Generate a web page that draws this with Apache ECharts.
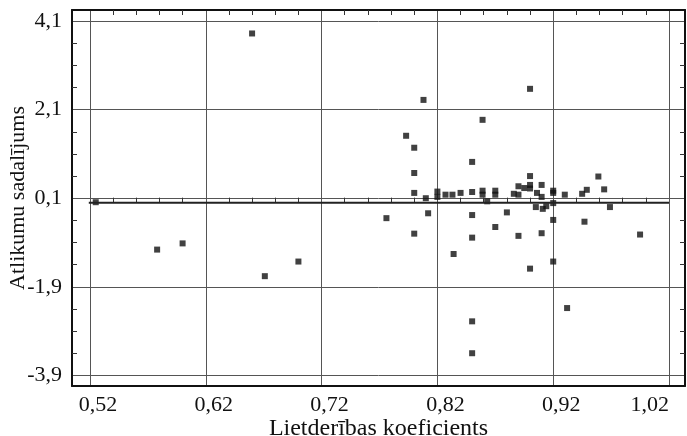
<!DOCTYPE html>
<html>
<head>
<meta charset="utf-8">
<script src="https://cdn.jsdelivr.net/npm/echarts@6/dist/echarts.min.js"></script>
<style>
  html, body { margin: 0; padding: 0; background: #fff; }
  #chart { width: 687px; height: 436px; }
</style>
</head>
<body>
<div id="chart"></div>
<script>
// Lietderības koeficients (x) un atlikumi (y)
const efficiency = [
  0.525, 0.578, 0.600, 0.660, 0.671, 0.700, 0.776, 0.793, 0.800, 0.800,
  0.800, 0.800, 0.808, 0.810, 0.812, 0.820, 0.820, 0.827, 0.833, 0.834,
  0.840, 0.850, 0.850, 0.850, 0.850, 0.850, 0.850, 0.859, 0.859, 0.859,
  0.863, 0.870, 0.870, 0.870, 0.880, 0.886, 0.890, 0.890, 0.890, 0.895,
  0.900, 0.900, 0.900, 0.900, 0.900, 0.905, 0.906, 0.910, 0.910, 0.910,
  0.911, 0.914, 0.920, 0.920, 0.920, 0.920, 0.920, 0.930, 0.932, 0.945,
  0.947, 0.949, 0.959, 0.964, 0.969, 0.995
];
const residuals = [
  0.01, -1.06, -0.92, 3.82, -1.66, -1.33, -0.35, 1.51, 1.24, 0.67,
  0.22, -0.70, 2.32, 0.10, -0.24, 0.25, 0.13, 0.18, 0.18, -1.16,
  0.22, 0.92, 0.24, -0.28, -0.79, -2.68, -3.40, 1.87, 0.27, 0.18,
  0.03, 0.27, 0.18, -0.55, -0.22, 0.20, 0.37, 0.18, -0.75, 0.33,
  2.57, 0.60, 0.40, 0.32, -1.49, -0.10, 0.22, 0.40, 0.13, -0.69,
  -0.14, -0.08, 0.27, 0.22, -0.01, -0.39, -1.33, 0.18, -2.38, 0.20,
  -0.43, 0.29, 0.59, 0.30, -0.10, -0.72
];
const xTicks = [0.52, 0.62, 0.72, 0.82, 0.92, 1.02];
const yTicks = [-3.9, -1.9, 0.1, 2.1, 4.1];
const zeroLineX = [0.519, 1.02];

const X_MIN = 0.5045, X_MAX = 1.0338;
const Y_MIN = -4.14, Y_MAX = 4.35;

// minor ticks: 5 parts on x, 4 parts on y
function minors(ticks, parts) {
  const out = [];
  for (let i = 0; i < ticks.length - 1; i++) {
    const step = (ticks[i + 1] - ticks[i]) / parts;
    for (let k = 1; k < parts; k++) out.push(+(ticks[i] + k * step).toFixed(4));
  }
  return out;
}
const xMinor = minors(xTicks, 5);
const yMinor = minors(yTicks, 4);

const points = efficiency.map((x, i) => [x, residuals[i]]);
const font = "Liberation Serif";
const frame = { show: true, onZero: false, lineStyle: { color: "#111", width: 2 } };
const gridLine = { show: true, lineStyle: { color: "#555", width: 1 } };
const comma = (d) => (v) => v.toFixed(d).replace(".", ",");

const chart = echarts.init(document.getElementById("chart"));
chart.setOption({
  animation: false,
  grid: { left: 72, right: 2, top: 10, bottom: 50, outerBoundsMode: "none", containLabel: false },
  xAxis: [
    {
      type: "value", position: "bottom", min: X_MIN, max: X_MAX,
      name: "Lietderības koeficients", nameLocation: "middle", nameGap: 31,
      nameMoveOverlap: false,
      nameTextStyle: { fontFamily: font, fontSize: 24, color: "#111" },
      axisLine: frame,
      axisTick: { show: false, customValues: xTicks },
      axisLabel: { customValues: xTicks, formatter: comma(2), margin: 8,
        padding: [0, 0, 0, 16], alignMaxLabel: "right",
        fontFamily: font, fontSize: 22, color: "#111" },
      splitLine: gridLine
    },
    {
      type: "value", position: "bottom", min: X_MIN, max: X_MAX,
      axisLine: { show: false },
      axisTick: { show: true, inside: true, length: 5, customValues: xMinor,
        lineStyle: { color: "#333" } },
      axisLabel: { show: false }, splitLine: { show: false }
    },
    {
      type: "value", position: "top", min: X_MIN, max: X_MAX,
      axisLine: frame,
      axisTick: { show: true, inside: true, length: 5, customValues: xMinor,
        lineStyle: { color: "#333" } },
      axisLabel: { show: false }, splitLine: { show: false }
    }
  ],
  yAxis: [
    {
      type: "value", position: "left", min: Y_MIN, max: Y_MAX,
      name: "Atlikumu sadalījums", nameLocation: "middle", nameGap: 43,
      nameMoveOverlap: false,
      nameTextStyle: { fontFamily: font, fontSize: 22, color: "#111" },
      axisLine: frame,
      axisTick: { show: false, customValues: yTicks },
      axisLabel: { customValues: yTicks, formatter: comma(1), margin: 10,
        fontFamily: font, fontSize: 22, color: "#111" },
      splitLine: gridLine
    },
    {
      type: "value", position: "left", min: Y_MIN, max: Y_MAX,
      axisLine: { show: false },
      axisTick: { show: true, inside: true, length: 5, customValues: yMinor,
        lineStyle: { color: "#333" } },
      axisLabel: { show: false }, splitLine: { show: false }
    },
    {
      type: "value", position: "right", min: Y_MIN, max: Y_MAX,
      axisLine: frame,
      axisTick: { show: true, inside: true, length: 5, customValues: yMinor,
        lineStyle: { color: "#333" } },
      axisLabel: { show: false }, splitLine: { show: false }
    }
  ],
  series: [
    {
      type: "line",
      data: zeroLineX.map((x) => [x, 0]),
      symbol: "none",
      lineStyle: { color: "#222", width: 2 },
      silent: true
    },
    {
      type: "scatter",
      data: points,
      symbol: "rect",
      symbolSize: 6,
      itemStyle: { color: "#111" }
    }
  ]
});
</script>
</body>
</html>
